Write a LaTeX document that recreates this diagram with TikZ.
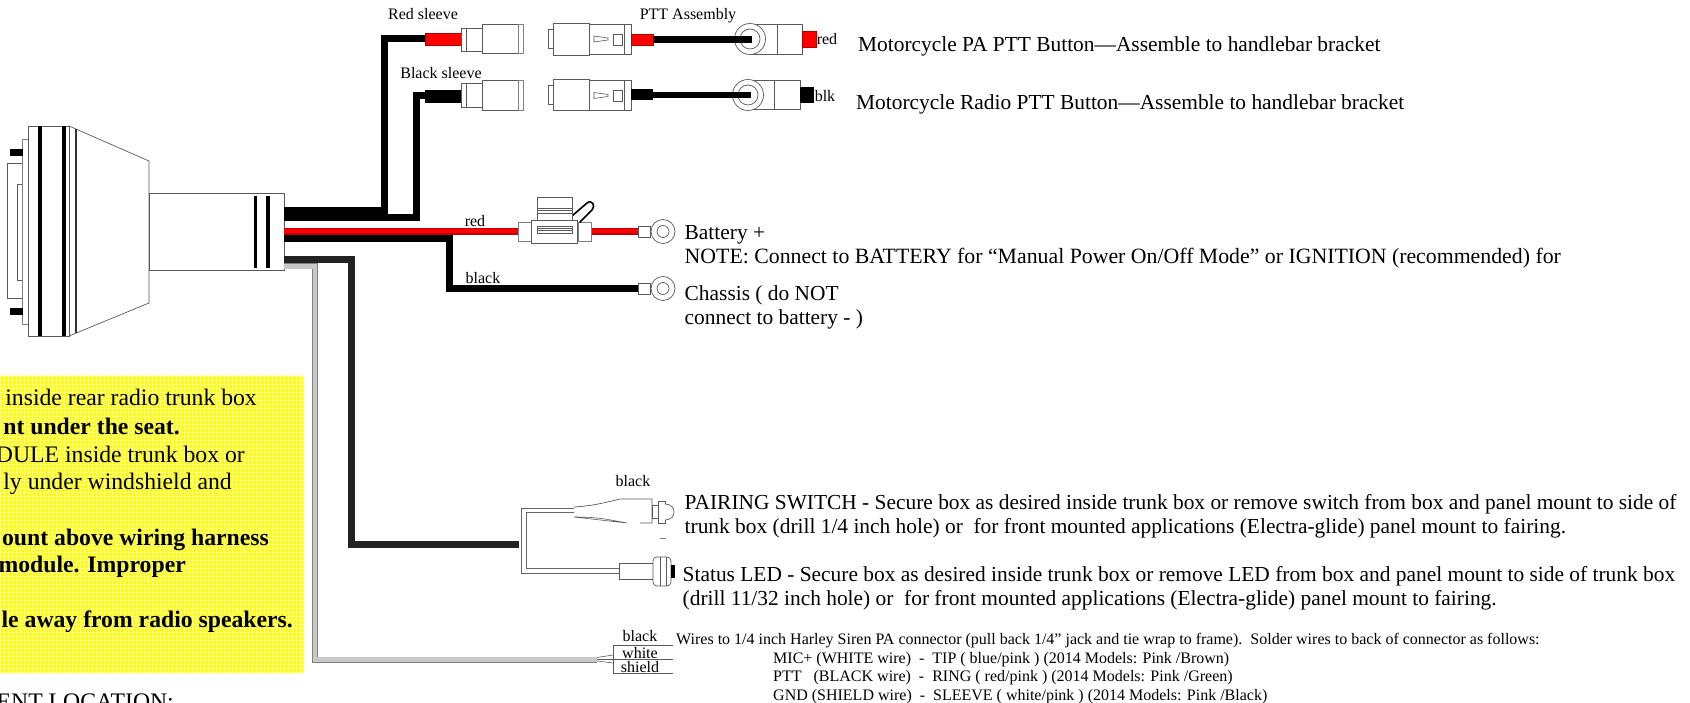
\documentclass[tikz,border=0pt]{standalone}
\usepackage{fontspec}
\setmainfont{Liberation Serif}
\definecolor{linegrey}{HTML}{5A5A5A}
\definecolor{meshyellow}{HTML}{FFFF00}
\definecolor{paleyellow}{HTML}{FFFF78}
\definecolor{cablegrey}{HTML}{C8C8C8}
\definecolor{darkwire}{HTML}{222222}
\tikzset{
  part/.style={draw=linegrey,line width=0.7pt,fill=white,line join=miter},
  lightpart/.style={draw=gray,line width=0.8pt,fill=white},
  thin part/.style={draw=linegrey,line width=0.6pt},
  wireblack/.style={draw=black,line width=7pt,line join=miter},
  wiredark/.style={draw=darkwire,line width=7pt,line join=miter},
  wirered/.style={draw=red!75!black,double=red,double distance=4pt,line width=1.5pt,line join=miter},
  wiregrey/.style={draw=gray,double=cablegrey,double distance=4.4pt,line width=0.8pt,line join=miter},
  wirewhite/.style={draw=black!60,double=white,double distance=3.6pt,line width=0.9pt,line join=miter},
  solid black/.style={fill=black},
  solid red/.style={fill=red,draw=red!70!black,line width=0.5pt},
  bigtext/.style={anchor=base west,inner sep=0pt,font=\fontsize{21.4}{24}\selectfont},
  smalltext/.style={anchor=base west,inner sep=0pt,font=\fontsize{16}{18}\selectfont},
  noteline/.style={anchor=base east,inner sep=0pt,font=\fontsize{23.7}{26}\selectfont},
  notebold/.style={noteline,font=\fontsize{23.7}{26}\selectfont\bfseries},
  wirelabel/.style={anchor=base,inner sep=0pt,font=\fontsize{16}{18}\selectfont}
}
\begin{document}
\begin{tikzpicture}[x=1pt,y=-1pt]
\useasboundingbox (0,0) rectangle (1690,703);

% named wire ends
\coordinate (mainA) at (284,210.5);
\coordinate (mainB) at (284,217.5);
\coordinate (mainR) at (284,231.5);
\coordinate (mainK) at (284,238.5);
\coordinate (mainD) at (284,259.5);
\coordinate (mainG) at (284,266.5);
\coordinate (cornerA) at (384.5,210.5);
\coordinate (cornerAt) at (384.5,38.5);
\coordinate (sleeveA) at (425,38.5);
\coordinate (cornerB) at (416.5,217.5);
\coordinate (cornerBt) at (416.5,96);
\coordinate (sleeveB) at (425,96);
\coordinate (fuseL) at (518,231.5);
\coordinate (fuseR) at (591,231.5);
\coordinate (lugR) at (638,231.5);
\coordinate (cornerK) at (449.5,238.5);
\coordinate (cornerKb) at (449.5,288.5);
\coordinate (lugK) at (638,288.5);
\coordinate (cornerD) at (351.5,259.5);
\coordinate (cornerDb) at (351.5,544.5);
\coordinate (splitD) at (519,544.5);
\coordinate (cornerG) at (315,266.5);
\coordinate (cornerGb) at (315,659.5);
\coordinate (endG) at (597,659.5);

% yellow note
\fill[meshyellow] (0,376) rectangle (303,673);
\begin{scope}
\clip (0,376) rectangle (303,673);
\draw[paleyellow,line width=0.8pt,step=4pt] (0,372) grid (304,676);
\end{scope}

% radio body
\draw[part] (7,163) -- (22,163) -- (22,184) -- (17,184) -- (17,280) -- (22,280) -- (22,298) -- (7,298) -- cycle;
\draw[lightpart] (22,139) rectangle (28,324);
\fill[solid black] (10,149) rectangle (23,156);
\fill[solid black] (10,308) rectangle (23,315);
\draw[part] (69,126) -- (149,161) -- (149,303) -- (69,336) -- cycle;
\draw[part] (28,126) rectangle (69,336);
\fill[solid black] (38,126) rectangle (42,336);
\fill[solid black] (62,126) rectangle (66,336);
\fill[black!80] (75,129) rectangle (77,333);
\draw[part] (149,193) rectangle (284,270);
\fill[solid black] (254,196) rectangle (257,268);
\fill[solid black] (266,196) rectangle (270,268);

% wires from the module
\draw[wiregrey] (mainG) -- (cornerG) -- (cornerGb) -- (endG);
\draw[wiredark] (mainD) -- (cornerD) -- (cornerDb) -- (splitD);
\draw[wireblack] (mainK) -- (cornerK) -- (cornerKb) -- (lugK);
\draw[wireblack] (mainB) -- (cornerB) -- (cornerBt) -- (sleeveB);
\draw[wireblack] (mainA) -- (cornerA) -- (cornerAt) -- (sleeveA);
\draw[wirered] (mainR) -- (fuseL);
\draw[wirered] (fuseR) -- (lugR);

% red sleeve and mating part
\draw[solid red] (425,33) rectangle (461,45);
\draw[part] (461,28) rectangle (466,51);
\draw[part] (466,28) rectangle (482,51);
\draw[part] (482,24) rectangle (518,53);
\draw[lightpart] (518,24) rectangle (523,53);
% black sleeve
\fill[solid black] (425,90) rectangle (461,103);
\draw[part] (461,83.5) rectangle (466,107);
\draw[part] (466,83.5) rectangle (482,107);
\draw[part] (482,80) rectangle (518,110);
\draw[lightpart] (518,80) rectangle (523,110);

% PTT assembly upper
\draw[part] (548,29) rectangle (553,48);
\draw[part] (553,23) rectangle (589,55);
\draw[part] (589,24) rectangle (624,54);
\draw[part] (624,24) rectangle (631,54);
\draw[part] (613,34) rectangle (622,45);
\draw[thin part] (594,36) -- (608,38) -- (608,40) -- (594,42) -- cycle;
\draw[part] (750,24) -- (777,24) -- (777,54) -- (750,54) -- cycle;
\draw[part] (802,24) -- (777,24) -- (777,54) -- (802,54) -- cycle;
\draw[part] (750,39) circle[radius=15.5pt];
\draw[part] (750,39) circle[radius=10pt];
\draw[solid red] (631,34) rectangle (653,45);
\fill[solid black] (653,36) rectangle (752,43);
\draw[solid red] (802,31) rectangle (816,47);
% PTT assembly lower
\draw[part] (548,85) rectangle (553,104);
\draw[part] (553,79.5) rectangle (589,110);
\draw[part] (589,80) rectangle (624,110);
\draw[part] (624,80) rectangle (631,110);
\draw[part] (613,90) rectangle (622,101);
\draw[thin part] (594,92.5) -- (608,94.5) -- (608,96.5) -- (594,98.5) -- cycle;
\draw[part] (748,80) -- (774,80) -- (774,109) -- (748,109) -- cycle;
\draw[part] (800,80) -- (774,80) -- (774,109) -- (800,109) -- cycle;
\draw[part] (748,95) circle[radius=15.5pt];
\draw[part] (748,95) circle[radius=10pt];
\fill[solid black] (631,89) rectangle (653,100);
\fill[solid black] (653,92) rectangle (751,98.5);
\fill[solid black] (800,87) rectangle (814,103);

% fuse holder
\draw[lightpart] (518,222) rectangle (531,241);
\draw[lightpart] (578,222) rectangle (591,241);
\draw[line width=1.6pt,black,line cap=round] (572,216) -- (587,203) .. controls (592,199) and (596,206) .. (592,210) -- (580,222);
\draw[part] (537,197) rectangle (572,220);
\draw[thin part] (537,208) -- (572,208) (537,210.5) -- (572,210.5) (537,213) -- (572,213);
\draw[part] (531,220) rectangle (577,243);
\draw[part] (537,226) rectangle (572,233);
\draw[thin part] (537,228.5) -- (572,228.5) (537,230.5) -- (572,230.5);

% ring lugs
\draw[part] (638,226) rectangle (650,237);
\draw[part] (663,231.5) circle[radius=12pt];
\draw[part] (663,231.5) circle[radius=6pt];
\draw[part] (638,283) rectangle (650,294);
\draw[part] (663,288.5) circle[radius=12pt];
\draw[part] (663,288.5) circle[radius=6pt];

% pairing switch and LED wires
\draw[wirewhite] (574,510.5) -- (524,510.5) -- (524,571) -- (619,571);
\draw[part] (574,507) .. controls (590,506) and (600,504) .. (620,499) -- (652,499) -- (652,523) -- (640,523);
\draw[thin part] (627,523) .. controls (610,520) and (600,517) .. (574,517) -- cycle;
\draw[part] (652,505) rectangle (658,518);
\draw[part] (658,501) rectangle (665,523);
\draw[part] (665,504) .. controls (677,504) and (677,520) .. (665,520);
\draw[draw=gray,line width=0.6pt] (660,538) -- (666,538);
\draw[part] (619,563) rectangle (653,579);
\draw[part,rounded corners=4pt] (653,557) rectangle (671,586);
\draw[thin part] (660,557) -- (660,586) (666,557) -- (666,586);
\fill[solid black] (671,565) rectangle (675,578);

% siren wires
\draw[thin part] (613,645) -- (673,645) (613,645) -- (613,673) -- (673,673);
\draw[thin part] (597,659) -- (673,659);
\draw[thin part] (597,657.5) -- (613,655);
\draw[thin part] (597,661) -- (613,663);

% wire labels
\node[wirelabel] (lRedSleeve) at (423,20) {Red sleeve};
\node[wirelabel] (lPTT) at (688,20) {PTT Assembly};
\node[wirelabel] (lBlackSleeve) at (441,79) {Black sleeve};
\node[wirelabel] (lred) at (827,45) {red};
\node[wirelabel] (lblk) at (825,102) {blk};
\node[wirelabel] (lredw) at (475,227) {red};
\node[wirelabel] (lblackw) at (483,284) {black};
\node[wirelabel] (lblackp) at (633,486) {black};
\node[wirelabel] (lsb) at (640,641) {black};
\node[wirelabel] (lsw) at (640,658) {white};
\node[wirelabel] (lss) at (640,672) {shield};

% right-hand texts
\node[bigtext] (t1) at (858,51.5) {Motorcycle PA PTT Button—Assemble to handlebar bracket};
\node[bigtext] (t2) at (856,109.5) {Motorcycle Radio PTT Button—Assemble to handlebar bracket};
\node[bigtext] (t3) at (684.5,240) {Battery +};
\node[bigtext,font=\fontsize{21.8}{24}\selectfont] (t4) at (684.5,264) {NOTE: Connect to BATTERY for “Manual Power On/Off Mode” or IGNITION (recommended) for};
\node[bigtext] (t5) at (684.5,301) {Chassis ( do NOT};
\node[bigtext] (t6) at (684.5,325) {connect to battery - )};
\node[bigtext] (t7) at (684.5,509) {PAIRING SWITCH - Secure box as desired inside trunk box or remove switch from box and panel mount to side of};
\node[bigtext] (t8) at (684.5,533.5) {trunk box (drill 1/4 inch hole) or\ \ for front mounted applications (Electra-glide) panel mount to fairing.};
\node[bigtext] (t9) at (682.5,581) {Status LED - Secure box as desired inside trunk box or remove LED from box and panel mount to side of trunk box};
\node[bigtext] (t10) at (682.5,605) {(drill 11/32 inch hole) or\ \ for front mounted applications (Electra-glide) panel mount to fairing.};
\node[smalltext] (s1) at (676,644.5) {Wires to 1/4 inch Harley Siren PA connector (pull back 1/4” jack and tie wrap to frame).\ \ Solder wires to back of connector as follows:};
\node[smalltext] (s2) at (773,663) {MIC+ (WHITE wire)\ \ -\ \ TIP ( blue/pink ) (2014 Models: Pink /Brown)};
\node[smalltext] (s3) at (773,681) {PTT\ \ \ (BLACK wire)\ \ -\ \ RING ( red/pink ) (2014 Models: Pink /Green)};
\node[smalltext] (s4) at (773,700) {GND (SHIELD wire)\ \ -\ \ SLEEVE ( white/pink ) (2014 Models: Pink /Black)};

% note text, cut by the left edge of the picture
\node[noteline] (n1) at (257,406) {inside rear radio trunk box};
\node[notebold] (n2) at (180,434) {nt under the seat.};
\node[noteline] (n3) at (245,462) {DULE inside trunk box or};
\node[noteline] (n4) at (232,489) {ly under windshield and};
\node[notebold] (n5) at (269,545) {ount above wiring harness};
\node[notebold] (n6) at (186,572) {module. Improper};
\node[notebold] (n7) at (293,627) {le away from radio speakers.};
\node[noteline] (n8) at (174,709) {IENT LOCATION:};
\end{tikzpicture}
\end{document}
